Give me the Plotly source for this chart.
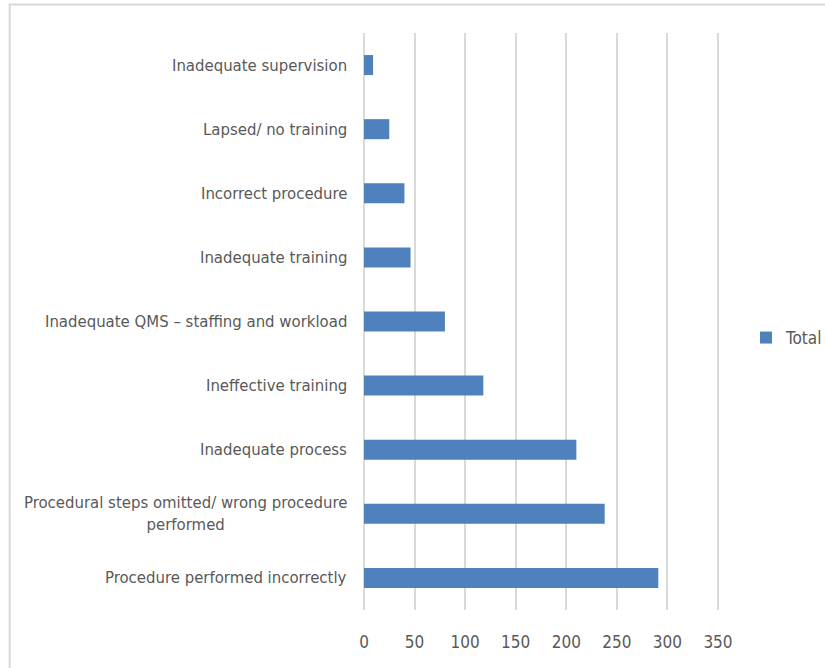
import plotly.graph_objects as go

# Root-cause categories, listed bottom to top
categories = [
    "Procedure performed incorrectly",
    "Procedural steps omitted/ wrong procedure<br>performed",
    "Inadequate process",
    "Ineffective training",
    "Inadequate QMS \u2013 staffing and workload",
    "Inadequate training",
    "Incorrect procedure",
    "Lapsed/ no training",
    "Inadequate supervision",
]
totals = [291, 238, 210, 118, 80, 46, 40, 25, 9]
x_ticks = [0, 50, 100, 150, 200, 250, 300, 350]

W, H = 825, 668
L, R, T, B = 363.5, 105.3, 33, 58
FONT = "Liberation Sans Narrow, DejaVu Sans Condensed, sans-serif"
FS = 16.6
GREY_TXT = "#595959"
GRID = "#d9d9d9"

fig = go.Figure()
fig.add_trace(go.Bar(
    y=categories,
    x=totals,
    orientation="h",
    name="Total",
    marker=dict(color="#4f81bd", line=dict(width=0)),
))

# Category labels, centred line-by-line and right-aligned to the axis
for cat in categories:
    fig.add_annotation(
        x=0, xref="paper", y=cat, yref="y",
        text=cat, showarrow=False,
        xanchor="right", yanchor="middle", align="center",
        xshift=-15,
        font=dict(family=FONT, size=FS, color=GREY_TXT),
    )

# Light outer frame around the chart
pw, ph = W - L - R, H - T - B
fig.add_shape(
    type="rect", xref="paper", yref="paper",
    x0=(9 - L) / pw, x1=(830 - L) / pw,
    y0=(H - B - 675) / ph, y1=(H - B - 4.5) / ph,
    line=dict(color=GRID, width=2), fillcolor="rgba(0,0,0,0)",
)

fig.update_layout(
    width=W, height=H, autosize=False,
    margin=dict(l=L, r=R, t=T, b=B, pad=0),
    paper_bgcolor="white", plot_bgcolor="white",
    bargap=0.688,
    showlegend=True,
    legend=dict(
        xref="container", yref="container",
        x=746 / W, xanchor="left", y=1 - 338 / H, yanchor="middle",
        font=dict(family=FONT, size=FS + 0.4, color=GREY_TXT),
        itemwidth=30, bgcolor="rgba(0,0,0,0)",
    ),
    xaxis=dict(
        range=[0, 352],
        tickvals=x_ticks,
        showgrid=True, gridcolor=GRID, gridwidth=1.6,
        zeroline=True, zerolinecolor=GRID, zerolinewidth=1.6,
        showline=False, ticks="",
        ticklabelstandoff=20,
        tickfont=dict(family=FONT, size=FS + 0.4, color=GREY_TXT),
        fixedrange=True,
    ),
    yaxis=dict(
        categoryorder="array", categoryarray=categories,
        showticklabels=False, showgrid=False, zeroline=False,
        showline=False, ticks="",
        fixedrange=True,
    ),
)

fig.write_html("out.html")
